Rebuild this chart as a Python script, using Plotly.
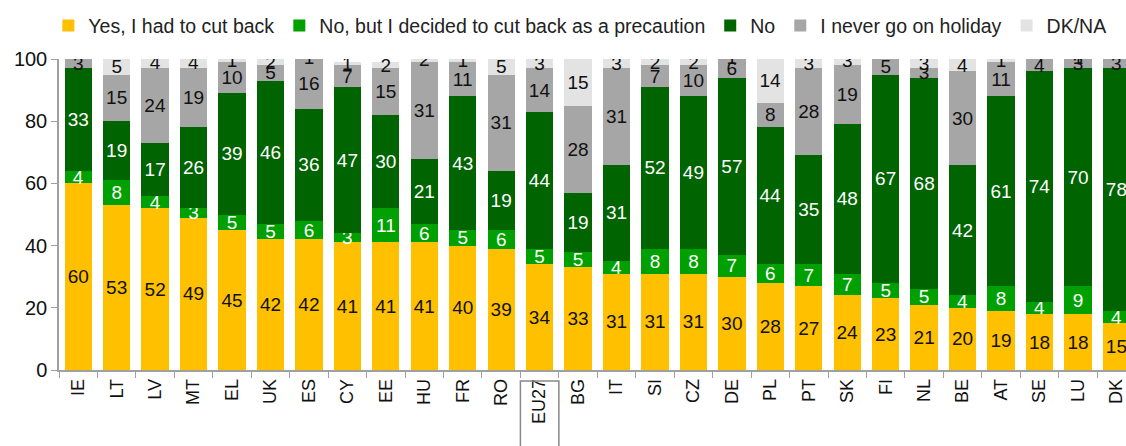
import plotly.graph_objects as go

countries = ["IE","LT","LV","MT","EL","UK","ES","CY","EE","HU","FR","RO","EU27","BG",
             "IT","SI","CZ","DE","PL","PT","SK","FI","NL","BE","AT","SE","LU","DK"]
yes_cut = [60,53,52,49,45,42,42,41,41,41,40,39,34,33,31,31,31,30,28,27,24,23,21,20,19,18,18,15]
precaution = [4,8,4,3,5,5,6,3,11,6,5,6,5,5,4,8,8,7,6,7,7,5,5,4,8,4,9,4]
no_vals = [33,19,17,26,39,46,36,47,30,21,43,19,44,19,31,52,49,57,44,35,48,67,68,42,61,74,70,78]
never = [3,15,24,19,10,5,16,7,15,31,11,31,14,28,31,7,10,6,8,28,19,5,3,30,11,4,3,3]
dkna = [0,5,4,4,1,2,1,1,2,2,1,5,3,15,3,2,2,1,14,3,3,0,3,4,1,0,1,0]

series = [
    ("Yes, I had to cut back", yes_cut, "#FFC000", "#111111"),
    ("No, but I decided to cut back as a precaution", precaution, "#00A000", "#FFFFFF"),
    ("No", no_vals, "#006400", "#FFFFFF"),
    ("I never go on holiday", never, "#A6A6A6", "#111111"),
    ("DK/NA", dkna, "#E3E3E3", "#111111"),
]

FONT = "Liberation Sans, Arial, sans-serif"

fig = go.Figure()
for name, vals, color, tcol in series:
    fig.add_trace(go.Bar(
        name=name, x=countries, y=vals,
        marker=dict(color=color, line=dict(width=0)),
        text=[str(v) if v > 0 else "" for v in vals],
        textposition="inside", insidetextanchor="middle",
        textangle=0, constraintext="none",
        textfont=dict(family=FONT, size=19, color=tcol),
        hoverinfo="skip",
    ))

fig.update_layout(
    barmode="stack", bargap=0.29,
    width=1126, height=446,
    margin=dict(l=59, r=0, t=59, b=76, autoexpand=False),
    paper_bgcolor="white", plot_bgcolor="white",
    font=dict(family=FONT, size=17, color="#222222"),
    showlegend=True,
    legend=dict(orientation="h", x=-0.01, y=1.107, xanchor="left", yanchor="middle",
                font=dict(family=FONT, size=19.5, color="#222222"),
                traceorder="normal", itemclick=False),
    xaxis=dict(range=[-0.5, 27.25], showline=True, linecolor="#A0A0A0", linewidth=1.5,
               ticks="outside", tickson="boundaries", ticklen=6, tickcolor="#A0A0A0",
               tickangle=-90, tickfont=dict(family=FONT, size=18, color="#111111"),
               showgrid=False, automargin=False),
    yaxis=dict(range=[0, 100], tickvals=[0,20,40,60,80,100], showline=True,
               linecolor="#A0A0A0", linewidth=1.5, ticks="outside", ticklen=6,
               tickcolor="#A0A0A0", tickfont=dict(family=FONT, size=20, color="#111111"),
               showgrid=False, zeroline=False, automargin=False),
)

fig.add_shape(type="rect", xref="x", yref="paper", x0=11.5, x1=12.5, y0=-0.035, y1=-0.27,
              line=dict(color="#888888", width=1.5), fillcolor="rgba(0,0,0,0)")

fig.write_html("out.html", config={"displayModeBar": False},
               post_script="document.body.style.margin='0';")
